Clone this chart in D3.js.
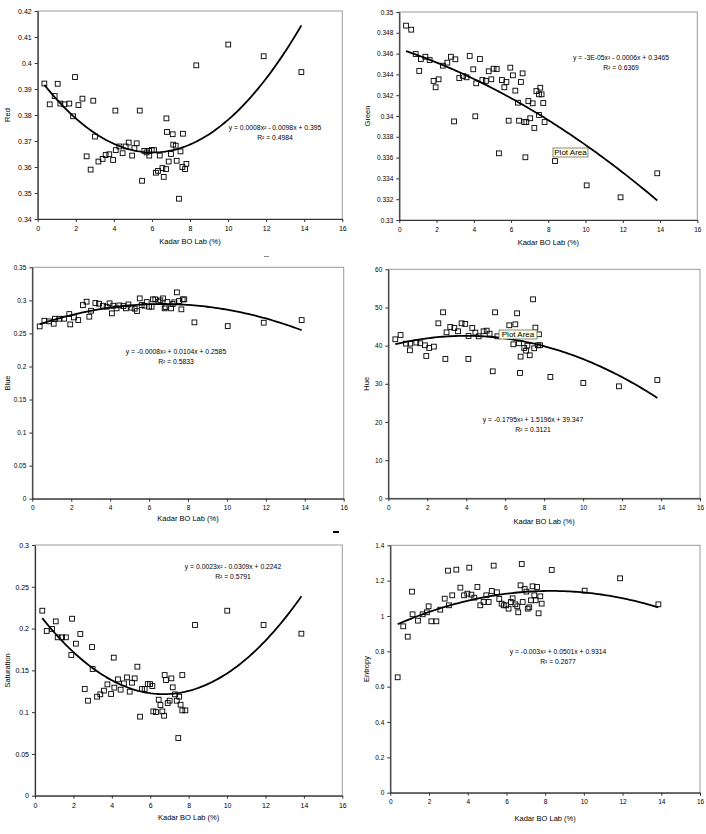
<!DOCTYPE html>
<html><head><meta charset="utf-8">
<script src="https://cdn.jsdelivr.net/npm/d3@7"></script>
<style>
body{margin:0;background:#fff;}
text{font-family:Arial,"Liberation Sans",sans-serif;fill:#000;}
</style>
</head><body>
<svg id="c" width="706" height="834"></svg>
<script>
// ---------- data ----------
const xTicks = [0, 2, 4, 6, 8, 10, 12, 14, 16];
const xTitle = "Kadar BO Lab (%)";

const redX = [0.35,0.63,0.89,1.05,1.19,1.40,1.66,1.96,1.86,2.14,2.35,2.92,4.08,5.36,6.76,8.33,10.01,11.87,13.85,
  6.79,7.09,7.63,7.12,7.25,3.01,2.57,2.78,3.19,3.41,3.57,3.76,3.96,4.10,4.29,4.46,4.62,4.78,4.96,5.08,5.20,5.48,5.60,5.72,5.86,5.85,5.99,6.11,6.21,6.32,6.41,6.55,6.62,6.74,6.88,7.00,7.30,7.42,7.50,7.60,7.74,7.81];
const redY = [0.3921,0.3841,0.3873,0.3920,0.3844,0.3841,0.3844,0.3946,0.3795,0.3838,0.3863,0.3855,0.3817,0.3817,0.3787,0.3991,0.4071,0.4026,0.3965,
  0.3735,0.3726,0.3728,0.3686,0.3682,0.3717,0.3641,0.3590,0.3621,0.3631,0.3646,0.3649,0.3627,0.3665,0.3679,0.3653,0.3679,0.3694,0.3644,0.3673,0.3691,0.3547,0.3662,0.3656,0.3644,0.3662,0.3665,0.3665,0.3578,0.3585,0.3644,0.3596,0.3562,0.3592,0.3621,0.3650,0.3624,0.3478,0.3660,0.3600,0.3592,0.3612];
const redTicks = [0.34,0.35,0.36,0.37,0.38,0.39,0.40,0.41,0.42];

const greenX = [0.36,0.64,0.88,1.07,1.16,1.40,1.63,1.84,1.95,2.11,2.34,2.58,2.77,2.94,3.01,3.22,3.42,3.61,3.78,3.97,4.08,4.13,4.33,4.46,4.65,4.80,4.94,5.06,5.23,5.51,5.64,5.75,5.87,5.96,6.10,6.23,6.37,6.43,6.53,6.62,6.71,6.82,6.93,7.03,7.16,7.25,7.36,7.50,7.57,7.64,7.73,7.50,7.80,
  5.35,6.77,8.36,10.06,11.88,13.85];
const greenY = [0.34869,0.3483,0.34596,0.34433,0.34548,0.3457,0.34538,0.34337,0.34276,0.34353,0.34484,0.34513,0.3457,0.33948,0.34545,0.34365,0.34385,0.34372,0.34577,0.34449,0.33997,0.34314,0.34548,0.34346,0.34337,0.3443,0.34353,0.34455,0.34452,0.34346,0.34276,0.34327,0.33955,0.34465,0.34391,0.34244,0.34128,0.33955,0.34327,0.3441,0.33942,0.33942,0.34144,0.33978,0.34122,0.33885,0.3424,0.34208,0.34272,0.34208,0.34125,0.3401,0.33942,
  0.33641,0.33603,0.33567,0.33333,0.33218,0.33449];
const greenTicks = [0.33,0.332,0.334,0.336,0.338,0.34,0.342,0.344,0.346,0.348,0.35];

const blueX = [0.38,0.62,0.86,1.10,1.16,1.39,1.64,1.90,1.95,2.14,2.36,2.60,2.79,2.93,3.02,3.24,3.43,3.63,3.82,3.97,4.09,4.16,4.33,4.47,4.68,4.81,4.94,5.10,5.26,5.38,5.52,5.62,5.76,5.88,6.00,6.13,6.20,6.32,6.48,6.58,6.72,6.80,6.85,6.94,7.13,7.21,7.30,7.43,7.54,7.66,7.73,7.81,8.33,10.04,11.89,13.84];
const blueY = [0.2606,0.2692,0.2682,0.2646,0.2722,0.2722,0.2722,0.2793,0.2636,0.2742,0.2702,0.2929,0.2980,0.2753,0.2843,0.2960,0.2949,0.2919,0.2904,0.2955,0.2803,0.2919,0.2879,0.2924,0.2914,0.2879,0.2939,0.2889,0.2874,0.2838,0.3030,0.2929,0.2919,0.2975,0.2904,0.2904,0.3015,0.3015,0.2980,0.3000,0.3030,0.2879,0.2899,0.2975,0.2879,0.2944,0.2970,0.3121,0.2990,0.2864,0.3015,0.3015,0.2667,0.2611,0.2662,0.2702];
const blueTicks = [0,0.05,0.1,0.15,0.2,0.25,0.3,0.35];

const hueX = [0.36,0.63,0.91,1.11,1.13,1.44,1.64,1.88,1.95,2.10,2.34,2.57,2.81,2.93,2.99,3.18,3.39,3.58,3.76,3.95,4.11,4.12,4.31,4.47,4.64,4.89,5.05,5.20,5.36,5.48,5.60,6.21,6.42,6.52,6.61,6.71,6.76,6.79,6.98,7.07,7.14,7.26,7.43,7.49,7.55,7.68,7.73,7.79,8.32,10.01,11.84,13.81];
const hueY = [41.66,42.79,40.52,38.78,40.52,40.79,40.61,40.09,37.29,39.39,39.74,45.85,48.73,36.51,43.49,44.89,44.63,43.76,45.85,45.68,36.51,42.53,44.63,43.41,42.44,43.76,43.93,43.14,33.27,48.73,42.44,45.33,40.35,45.59,48.47,40.61,32.84,37.12,39.39,38.69,40.00,37.47,52.14,39.30,44.72,40.09,42.97,40.09,31.79,30.22,29.34,31.0];
const hueTicks = [0,10,20,30,40,50,60];

const satX = [0.38,0.61,0.89,1.08,1.18,1.41,1.61,1.93,1.89,2.13,2.36,2.97,4.10,5.33,6.75,7.67,8.33,10.01,11.90,13.87,3.00,
  2.59,2.76,3.23,3.40,3.59,3.77,3.96,4.13,4.32,4.46,4.63,4.79,4.93,5.05,5.19,5.47,5.57,5.71,5.87,5.99,6.11,6.16,6.30,6.44,6.53,6.63,6.72,6.82,6.91,7.01,7.10,7.17,7.29,7.38,7.46,7.51,7.58,7.67,7.83];
const satY = [0.2214,0.1971,0.1995,0.2086,0.1895,0.1895,0.1895,0.2118,0.1684,0.1819,0.1935,0.1779,0.1652,0.1544,0.1444,0.1444,0.2043,0.2214,0.2043,0.1939,0.1516,
  0.1277,0.1137,0.1185,0.1213,0.1257,0.1332,0.1217,0.1293,0.1392,0.1269,0.1344,0.1416,0.1245,0.1352,0.1404,0.0946,0.1277,0.1277,0.1336,0.1336,0.1312,0.1009,0.1001,0.1149,0.1085,0.1009,0.0957,0.1384,0.1109,0.1137,0.1404,0.1297,0.1213,0.1137,0.0690,0.1185,0.1089,0.1021,0.1021];
const satTicks = [0,0.05,0.1,0.15,0.2,0.25,0.3];

const entX = [0.38,0.67,0.90,1.12,1.15,1.43,1.67,1.89,1.98,2.12,2.38,2.58,2.81,2.98,3.03,3.20,3.41,3.62,3.81,3.98,4.08,4.19,4.34,4.50,4.65,4.82,4.96,5.08,5.24,5.34,5.51,5.63,5.75,5.86,5.98,6.11,6.23,6.32,6.46,6.56,6.61,6.73,6.79,6.84,6.94,7.03,7.10,7.18,7.27,7.35,7.44,7.51,7.58,7.66,7.75,7.82,8.34,10.04,11.87,13.85];
const entY = [0.653,0.9415,0.883,1.1377,1.0094,0.9736,1.0094,1.0208,1.0547,0.9698,0.9698,1.0358,1.0981,1.2566,1.0604,1.1170,1.2623,1.1604,1.1170,1.1264,1.2736,1.1208,1.1038,1.1642,1.0604,1.0792,1.1170,1.0792,1.1415,1.2849,1.1340,1.0962,1.0698,1.0604,1.0604,1.0415,1.0792,1.1000,1.0660,1.0547,1.0208,1.1736,1.2943,1.0792,1.1528,1.1377,1.0415,1.0491,1.0887,1.1679,1.1170,1.0887,1.1642,1.0151,1.1113,1.0698,1.2604,1.1434,1.2132,1.0660];
const entTicks = [0,0.2,0.4,0.6,0.8,1,1.2,1.4];

const eqLabels = {
  red:  ["y = 0.0008x\u00B2 - 0.0098x + 0.395", "R\u00B2 = 0.4984"],
  green:["y = -3E-05x\u00B2 - 0.0006x + 0.3465", "R\u00B2 = 0.6369"],
  blue: ["y = -0.0008x\u00B2 + 0.0104x + 0.2585", "R\u00B2 = 0.5833"],
  hue:  ["y = -0.1795x\u00B2 + 1.5196x + 39.347", "R\u00B2 = 0.3121"],
  sat:  ["y = 0.0023x\u00B2 - 0.0309x + 0.2242", "R\u00B2 = 0.5791"],
  ent:  ["y = -0.003x\u00B2 + 0.0501x + 0.9314", "R\u00B2 = 0.2677"]
};

// ---------- layout ----------
const panels = [
  {key:"red", title:"Red", xs:redX, ys:redY, ticks:redTicks, L:37.7, R:342.3, T:11, B:219, eq:[275,130], ytx:8, xty:244, fs:7},
  {key:"green", title:"Green", xs:greenX, ys:greenY, ticks:greenTicks, L:399.3, R:697.3, T:12, B:220, eq:[621,60], ytx:368, xty:245, fs:6.5, tip:[553,148,35,9]},
  {key:"blue", title:"Blue", xs:blueX, ys:blueY, ticks:blueTicks, L:32.3, R:343.7, T:267.3, B:498.7, eq:[176,354], ytx:8, xty:521, fs:6.5},
  {key:"hue", title:"Hue", xs:hueX, ys:hueY, ticks:hueTicks, L:388.3, R:700, T:269.3, B:498.3, eq:[533,422], ytx:367, xty:524, fs:6.5, tip:[499,330,38,9]},
  {key:"sat", title:"Saturation", xs:satX, ys:satY, ticks:satTicks, L:35, R:342.3, T:545, B:795.7, eq:[233,569], ytx:8, xty:820, fs:7},
  {key:"ent", title:"Entropy", xs:entX, ys:entY, ticks:entTicks, L:390.3, R:700, T:545.3, B:792.7, eq:[558,654], ytx:367, xty:821, fs:6.5}
];

function quadFit(xs, ys){
  // least squares y = a + b x + c x^2
  let S=[0,0,0,0,0], T=[0,0,0];
  xs.forEach((x,i)=>{ let p=1; for(let k=0;k<5;k++){S[k]+=p; if(k<3) T[k]+=p*ys[i]; p*=x;} });
  const M=[[S[0],S[1],S[2],T[0]],[S[1],S[2],S[3],T[1]],[S[2],S[3],S[4],T[2]]];
  for(let i=0;i<3;i++){
    for(let j=i+1;j<3;j++){ const f=M[j][i]/M[i][i]; for(let k=i;k<4;k++) M[j][k]-=f*M[i][k]; }
  }
  const c=[0,0,0];
  for(let i=2;i>=0;i--){ let s=M[i][3]; for(let k=i+1;k<3;k++) s-=M[i][k]*c[k]; c[i]=s/M[i][i]; }
  return x=>c[0]+c[1]*x+c[2]*x*x;
}
const fmt = v => String(+v.toFixed(4));

const svg = d3.select("#c");
panels.forEach(p=>{
  const g = svg.append("g");
  const x = d3.scaleLinear().domain([0,16]).range([p.L,p.R]);
  const y = d3.scaleLinear().domain(d3.extent(p.ticks)).range([p.B,p.T]);
  // plot border
  g.append("rect").attr("x",p.L).attr("y",p.T).attr("width",p.R-p.L).attr("height",p.B-p.T)
    .attr("fill","#fff").attr("stroke","#9a9a9a").attr("stroke-width",1);
  // axes
  const ya = g.append("g").attr("transform",`translate(${p.L},0)`)
    .call(d3.axisLeft(y).tickValues(p.ticks).tickFormat(fmt).tickSize(3).tickSizeOuter(0).tickPadding(3));
  const xa = g.append("g").attr("transform",`translate(0,${p.B})`)
    .call(d3.axisBottom(x).tickValues(xTicks).tickFormat(fmt).tickSize(3).tickSizeOuter(0).tickPadding(4));
  [ya,xa].forEach(a=>{
    a.select(".domain").attr("stroke","#333").attr("stroke-width",1.2);
    a.selectAll(".tick line").attr("stroke","#333");
    a.selectAll("text").attr("font-size",p.fs).attr("font-family","Arial, 'Liberation Sans', sans-serif").attr("fill","#222");
  });
  // titles
  g.append("text").attr("x",(p.L+p.R)/2).attr("y",p.xty).attr("text-anchor","middle")
    .attr("font-size",7.5).attr("fill","#222").text(xTitle);
  g.append("text").attr("transform",`translate(${p.ytx},${(p.T+p.B)/2}) rotate(-90)`).attr("text-anchor","middle")
    .attr("dominant-baseline","middle").attr("font-size",7.5).attr("fill","#222").text(p.title);
  // trendline
  const f = quadFit(p.xs,p.ys);
  const [x0,x1] = d3.extent(p.xs);
  const pts = d3.range(0,101).map(i=>x0+(x1-x0)*i/100);
  g.append("path").datum(pts)
    .attr("d", d3.line().x(d=>x(d)).y(d=>y(f(d))))
    .attr("fill","none").attr("stroke","#000").attr("stroke-width",1.8);
  // points
  g.selectAll("rect.pt").data(p.xs.map((d,i)=>[d,p.ys[i]])).join("rect").attr("class","pt")
    .attr("x",d=>x(d[0])-2.4).attr("y",d=>y(d[1])-2.4).attr("width",4.8).attr("height",4.8)
    .attr("fill","none").attr("stroke","#000").attr("stroke-width",0.9);
  // equation
  const e = eqLabels[p.key];
  g.append("text").attr("x",p.eq[0]).attr("y",p.eq[1]).attr("text-anchor","middle").attr("font-size",6.8).attr("fill","#222").text(e[0]);
  g.append("text").attr("x",p.eq[0]).attr("y",p.eq[1]+10).attr("text-anchor","middle").attr("font-size",6.8).attr("fill","#222").text(e[1]);
  // tooltip
  if(p.tip){
    const [tx,ty,tw,th]=p.tip;
    g.append("rect").attr("x",tx).attr("y",ty).attr("width",tw).attr("height",th)
      .attr("fill","#ffffe1").attr("stroke","#555").attr("stroke-width",0.7);
    g.append("text").attr("x",tx+tw/2).attr("y",ty+th/2+0.5).attr("text-anchor","middle")
      .attr("dominant-baseline","middle").attr("font-size",8).attr("fill","#222").text("Plot Area");
  }
});
// small stray marks seen in the reference
svg.append("rect").attr("x",264).attr("y",256).attr("width",5).attr("height",1).attr("fill","#888");
svg.append("rect").attr("x",333).attr("y",531).attr("width",6).attr("height",2).attr("fill","#000");
</script>
</body></html>
